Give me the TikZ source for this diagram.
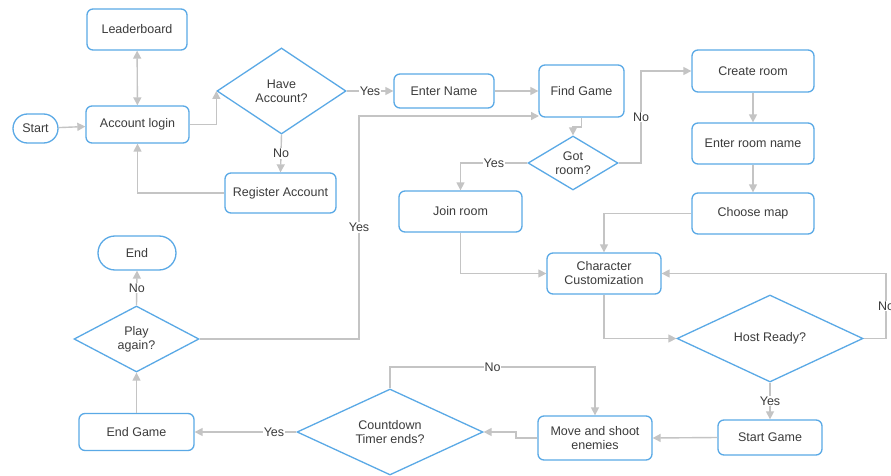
\documentclass[tikz,border=0pt]{standalone}
\usepackage{fontspec}
\setmainfont{Liberation Sans}
\usetikzlibrary{shapes.geometric,arrows.meta}
\definecolor{bline}{HTML}{5AA9E6}
\definecolor{gline}{HTML}{C4C4C4}
\definecolor{tcol}{HTML}{3C3C3C}
\begin{document}
\begin{tikzpicture}[x=1pt,y=-1pt,
  font=\fontsize{12.5}{14}\selectfont, text=tcol,
  box/.style={draw=bline, line width=1.3pt, rounded corners=6pt, fill=white, align=center, inner sep=0pt},
  term/.style={box},
  dia/.style={draw=bline, line width=1.3pt, diamond, fill=white, align=center, inner sep=0pt},
  conn/.style={draw=gline, line width=1.4pt, -{Triangle[length=8pt,width=8pt]}},
  biconn/.style={draw=gline, line width=1.4pt, {Triangle[length=8pt,width=8pt]}-{Triangle[length=8pt,width=8pt]}},
  lbl/.style={fill=white, inner sep=1pt, text=tcol}]
\useasboundingbox[fill=white] (0,0) rectangle (891,476);

% nodes
\node[box, minimum width=100pt, minimum height=41pt] (lead) at (137,29.5) {Leaderboard};
\node[term, rounded corners=14.5pt, minimum width=45pt, minimum height=29pt] (start) at (35.5,128.5) {Start};
\node[box, minimum width=103pt, minimum height=37pt] (login) at (137.5,124.5) {Account login};
\node[dia, minimum width=129pt, minimum height=86pt, aspect=1.5] (have) at (281.5,91) {Have\\Account?};
\node[box, minimum width=111pt, minimum height=40pt] (reg) at (280.5,193) {Register Account};
\node[box, minimum width=100pt, minimum height=34pt] (ename) at (444,91) {Enter Name};
\node[box, minimum width=85pt, minimum height=52pt] (find) at (581.5,91) {Find Game};
\node[dia, minimum width=90pt, minimum height=54pt, aspect=1.67] (got) at (573,163) {Got\\room?};
\node[box, minimum width=123pt, minimum height=41pt] (join) at (460.5,211.5) {Join room};
\node[box, minimum width=122pt, minimum height=42pt] (create) at (753,71) {Create room};
\node[box, minimum width=122pt, minimum height=41pt] (rname) at (753,143.5) {Enter room name};
\node[box, minimum width=122pt, minimum height=41pt] (map) at (753,213.5) {Choose map};
\node[box, minimum width=114pt, minimum height=41pt] (cc) at (604,273.5) {Character\\Customization};
\node[dia, minimum width=186pt, minimum height=87pt, aspect=2.1] (host) at (770,338.5) {Host Ready?};
\node[box, minimum width=104pt, minimum height=35pt] (sgame) at (770,437.5) {Start Game};
\node[box, minimum width=114pt, minimum height=44pt] (move) at (595,438) {Move and shoot\\enemies};
\node[dia, minimum width=186pt, minimum height=86pt, aspect=2.1] (count) at (390,432) {Countdown\\Timer ends?};
\node[box, minimum width=115pt, minimum height=37pt] (egame) at (136.5,432) {End Game};
\node[dia, minimum width=125pt, minimum height=66pt, aspect=1.9] (play) at (136.5,339) {Play\\again?};
\node[term, rounded corners=17pt, minimum width=78pt, minimum height=34pt] (end) at (137,253) {End};

\coordinate (fyes) at (539,116);

% connectors
\draw[conn] (start) -- (login);
\draw[biconn] (lead) -- (login);
\draw[conn] (login.east) -| (have.west);
\draw[conn] (have.east) -- node[lbl]{Yes} (ename.west);
\draw[conn] (have.south) -- node[lbl]{No} (reg.north);
\draw[conn] (reg.west) -| (login.south);
\draw[conn] (ename.east) -- (find.west);
\draw[conn] (find.south) -- (581.5,127) -| (got.north);
\draw[conn] (got.west) -- node[lbl]{Yes} (460.5,163) -- (join.north);
\draw[conn] (got.east) -- (641,163) -- node[lbl]{No} (641,71) -- (create.west);
\draw[conn] (create) -- (rname);
\draw[conn] (rname) -- (map);
\draw[conn] (map.west) -| (cc.north);
\draw[conn] (join.south) |- (cc.west);
\draw[conn] (cc.south) |- (host.west);
\draw[conn] (host.east) -- (886,338.5) -- node[lbl]{No} (886,273.5) -- (cc.east);
\draw[conn] (host.south) -- node[lbl]{Yes} (sgame.north);
\draw[conn] (sgame.west) -- (move.east);
\draw[conn] (move.west) -- (516,438) |- (count.east);
\draw[conn] (count.north) -- (390,367) -- node[lbl]{No} (595,367) -- (move.north);
\draw[conn] (count.west) -- node[lbl, pos=0.22]{Yes} (egame.east);
\draw[conn] (egame.north) -- (play.south);
\draw[conn] (play.north) -- node[lbl]{No} (end.south);
\draw[conn] (play.east) -- (359,339) -- node[lbl]{Yes} (359,116) -- (fyes);
\end{tikzpicture}
\end{document}
